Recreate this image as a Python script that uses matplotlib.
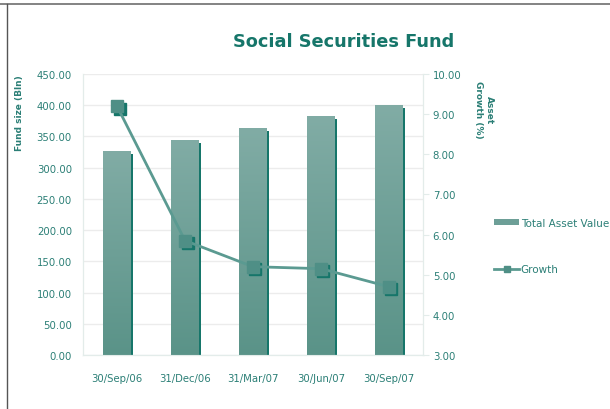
import numpy as np
import matplotlib
matplotlib.use("Agg")
import matplotlib.pyplot as plt
from matplotlib.lines import Line2D
from matplotlib.patches import Patch, Rectangle
from matplotlib.colors import LinearSegmentedColormap
from matplotlib.transforms import offset_copy

# Fund data
dates = ["30/Sep/06", "31/Dec/06", "31/Mar/07", "30/Jun/07", "30/Sep/07"]
total_asset = [326.0, 344.0, 363.0, 382.0, 400.0]   # Bln
growth = [9.2, 5.85, 5.2, 5.15, 4.7]                # %

teal_text = "#2b7f76"
teal_dark = "#16766a"
bar_top = "#81aca5"
bar_bottom = "#5a9388"
line_col = "#5b9a91"

fig = plt.figure(figsize=(6.1, 4.1), dpi=100)
ax = fig.add_axes([83 / 610, 1 - 356 / 410, 340 / 610, 281 / 410])
ax2 = ax.twinx()

x = np.arange(len(dates))
width = 0.4
shadow_w = 0.045

# bars with vertical gradient and a dark edge on the right
grad = LinearSegmentedColormap.from_list("bar", [bar_bottom, bar_top])
img = np.linspace(0, 1, 256).reshape(-1, 1)
for xi, v in zip(x, total_asset):
    ax.add_patch(Rectangle((xi + width / 2 - 0.005, 0), shadow_w, v - 4,
                           facecolor=teal_dark, edgecolor="none", zorder=2))
    ax.imshow(img, cmap=grad, origin="lower", aspect="auto",
              extent=(xi - width / 2, xi + width / 2, 0, v), zorder=3)
ax.set_xlim(-0.5, len(dates) - 0.5)
ax.set_ylim(0, 450)
ax.set_yticks(np.arange(0, 451, 50))
ax.set_yticklabels([f"{t:.2f}" for t in np.arange(0, 451, 50)])
ax.set_xticks(x)
ax.set_xticklabels(dates)
ax.yaxis.grid(True, color="#ececec", lw=1)
ax.set_axisbelow(True)

# growth line with shadowed square markers
shadow_tr = offset_copy(ax2.transData, fig=fig, x=2.5, y=-2.5, units="dots")
ax2.plot(x, growth, ls="none", marker="s", ms=8.5, color=teal_dark,
         transform=shadow_tr, zorder=3)
ax2.plot(x, growth, color=line_col, lw=2, marker="s", ms=8.5,
         mfc="#4f8f86", mec="#4f8f86", zorder=4)
ax2.set_ylim(3, 10)
ax2.set_yticks(np.arange(3, 10.01, 1))
ax2.set_yticklabels([f"{t:.2f}" for t in np.arange(3, 10.01, 1)])

for a in (ax, ax2):
    a.spines["top"].set_visible(False)
    for side in ("left", "right", "bottom"):
        a.spines[side].set_color("#e3ecea")
    a.tick_params(labelsize=7.3, labelcolor=teal_text, colors="#e3ecea")
ax.tick_params(axis="y", length=0, pad=8)
ax.tick_params(axis="x", length=0, pad=13)
ax2.tick_params(axis="y", length=4, pad=3)

fig.text(344 / 610, 1 - 42 / 410, "Social Securities Fund", ha="center",
         va="center", fontsize=12.8, fontweight="bold", color=teal_dark)
fig.text(20 / 610, 1 - 113 / 410, "Fund size (Bln)", rotation=90,
         ha="center", va="center", fontsize=6.5, fontweight="bold", color=teal_text)
fig.text(484 / 610, 1 - 110 / 410, "Asset\nGrowth (%)", rotation=-90,
         ha="center", va="center", multialignment="center",
         fontsize=6.5, fontweight="bold", color=teal_text)

handles = [Patch(facecolor="#6d9f97", edgecolor="none"),
           Line2D([], [], color=line_col, lw=2, marker="s", ms=4, mfc="#4f8f86", mec="#4f8f86")]
fig.legend(handles, ["Total Asset Value", "Growth"], loc="center left",
           bbox_to_anchor=(487 / 610, 1 - 247 / 410), frameon=False,
           fontsize=7.5, labelcolor=teal_text, labelspacing=3.55,
           handlelength=2.4, handleheight=0.5, handletextpad=0.15,
           borderpad=0.2)

# page border
fig.add_artist(Line2D([0, 1], [1 - 5 / 410] * 2, color="#7a7a7a", lw=1.3))
fig.add_artist(Line2D([7 / 610] * 2, [0, 1 - 5 / 410], color="#555555", lw=1.0))

fig.savefig("out.png", dpi=100)
